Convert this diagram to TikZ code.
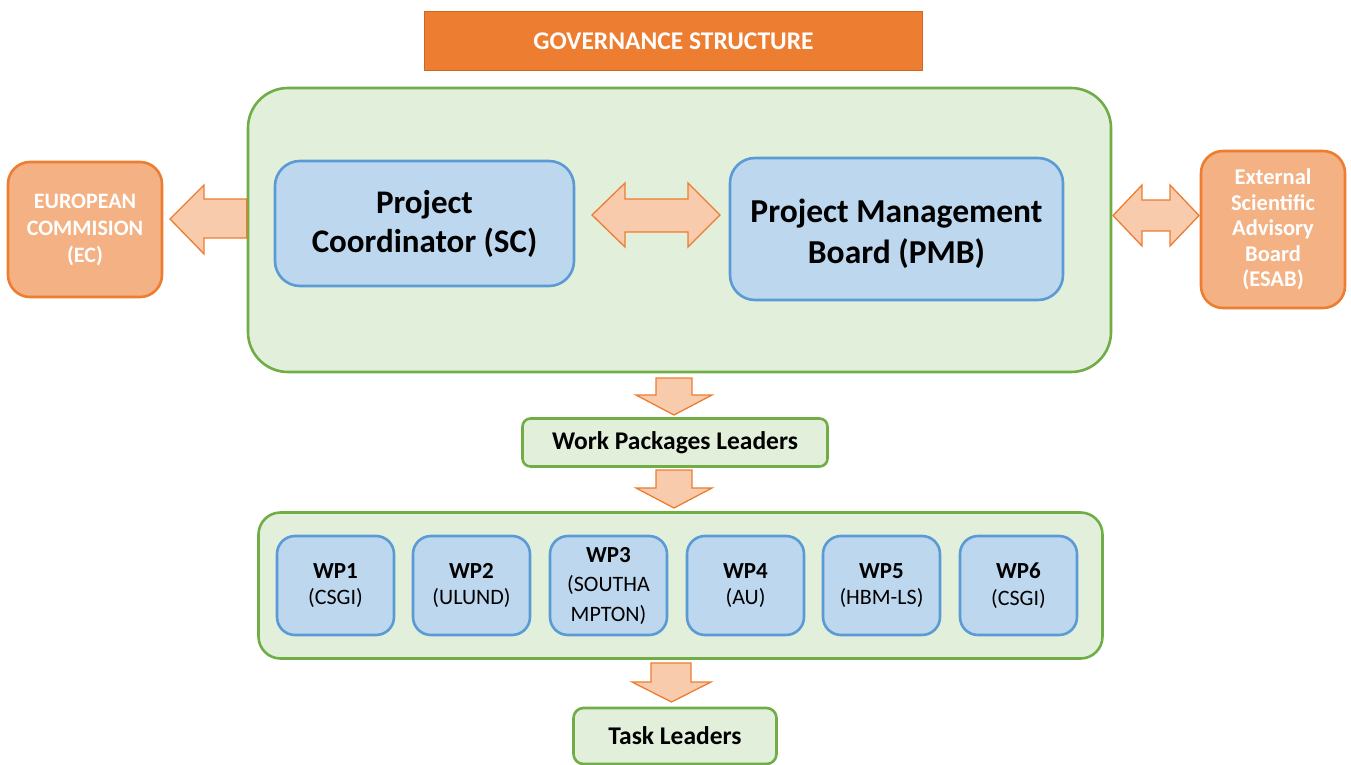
\documentclass[tikz,border=0pt]{standalone}
\usepackage{fontspec}
\setmainfont{Carlito}
\definecolor{gfill}{HTML}{E2EFDA}
\definecolor{gline}{HTML}{70AD47}
\definecolor{bfill}{HTML}{BDD7EE}
\definecolor{bline}{HTML}{5B9BD5}
\definecolor{ofill}{HTML}{F4B183}
\definecolor{oline}{HTML}{ED7D31}
\definecolor{afill}{HTML}{F8CBAD}
\definecolor{tline}{HTML}{D0651E}
\begin{document}
\begin{tikzpicture}[x=1pt,y=-1pt,
  box/.style={draw, line width=2.6pt, align=center, inner sep=0pt},
  greenbox/.style={box, fill=gfill, draw=gline},
  bluebox/.style={box, fill=bfill, draw=bline},
  orangebox/.style={box, fill=ofill, draw=oline, text=white},
  blockarrow/.style={fill=afill, draw=oline, line width=1.3pt, line join=miter},
  wpbox/.style={bluebox, rounded corners=18pt, minimum width=117pt, minimum height=99pt, font=\fontsize{22}{26.5}\selectfont}
]
\useasboundingbox (0,0) rectangle (1351,765);

% title
\node[fill=oline, draw=tline, line width=1pt, minimum width=498pt, minimum height=59pt, text=white, font=\fontsize{25.5}{30}\selectfont\bfseries] (title) at (673.5,41) {GOVERNANCE STRUCTURE};

% main green box
\node[greenbox, rounded corners=40pt, minimum width=863pt, minimum height=284pt] (main) at (679.5,230) {};

% side boxes
\node[orangebox, rounded corners=22pt, minimum width=154pt, minimum height=135pt, font=\fontsize{22}{27}\selectfont\bfseries] (ec) at (85,229.5) {EUROPEAN\\COMMISION\\(EC)};
\node[orangebox, rounded corners=22pt, minimum width=144pt, minimum height=157pt, font=\fontsize{22.5}{25.5}\selectfont\bfseries] (esab) at (1273,229.5) {External\\Scientific\\Advisory\\Board\\(ESAB)};

% inner blue boxes
\node[bluebox, rounded corners=25pt, minimum width=299pt, minimum height=125pt, font=\fontsize{33}{39}\selectfont\bfseries] (pc) at (424.5,223.5) {Project\\Coordinator (SC)};
\node[bluebox, rounded corners=25pt, minimum width=333pt, minimum height=142pt] (pmb) at (896.5,229) {};
\node[align=center, inner sep=0pt, font=\fontsize{33.5}{41}\selectfont\bfseries] (pmbtext) at ([yshift=-5pt]pmb.center) {Project Management\\Board (PMB)};

% arrows in top part
\filldraw[blockarrow] (main.west |- 0,199) -- (204,199) -- (204,185) -- (170,219) -- (204,254) -- (204,238) -- (main.west |- 0,238) -- cycle;
\filldraw[blockarrow] (592,215) -- (625,183) -- (625,199) -- (688,199) -- (688,183) -- (720,215) -- (688,247) -- (688,232) -- (625,232) -- (625,247) -- cycle;
\filldraw[blockarrow] (1113,215.5) -- (1142,185) -- (1142,200) -- (1170,200) -- (1170,185) -- (1199,215.5) -- (1170,246) -- (1170,231) -- (1142,231) -- (1142,246) -- cycle;

% work packages leaders
\node[greenbox, rounded corners=8pt, minimum width=305pt, minimum height=48pt, font=\fontsize{25.5}{30}\selectfont\bfseries] (wpl) at (675,442.5) {Work Packages Leaders};

\filldraw[blockarrow] (656,378) -- (692,378) -- (692,395) -- (712,395) -- (674,415) -- (636,395) -- (656,395) -- cycle;
\filldraw[blockarrow] (656,470) -- (692,470) -- (692,488) -- (712,488) -- (674,508) -- (636,488) -- (656,488) -- cycle;

% WP container
\node[greenbox, rounded corners=22pt, minimum width=844pt, minimum height=146pt] (wpc) at (680.5,585.5) {};

\node[wpbox] (wp1) at (335.5,585.5) {{\fontsize{23}{26.5}\selectfont\bfseries WP1}\\(CSGI)};
\node[wpbox] (wp2) at (471.5,585.5) {{\fontsize{23}{26.5}\selectfont\bfseries WP2}\\(ULUND)};
\node[wpbox, font=\fontsize{22}{29.5}\selectfont] (wp3) at (608.5,585.5) {{\fontsize{23}{29.5}\selectfont\bfseries WP3}\\(SOUTHA\\MPTON)};
\node[wpbox] (wp4) at (745.5,585.5) {{\fontsize{23}{26.5}\selectfont\bfseries WP4}\\(AU)};
\node[wpbox] (wp5) at (881.5,585.5) {{\fontsize{23}{26.5}\selectfont\bfseries WP5}\\(HBM-LS)};
\node[wpbox] (wp6) at (1018.5,585.5) {{\fontsize{23}{26.5}\selectfont\bfseries WP6}\\(CSGI)};

\filldraw[blockarrow] (651,663) -- (691,663) -- (691,682) -- (711,682) -- (671.5,702) -- (632,682) -- (651,682) -- cycle;

% task leaders
\node[greenbox, rounded corners=10pt, minimum width=203pt, minimum height=56pt, font=\fontsize{25.5}{30}\selectfont\bfseries] (tl) at (675,736) {Task Leaders};
\end{tikzpicture}
\end{document}
